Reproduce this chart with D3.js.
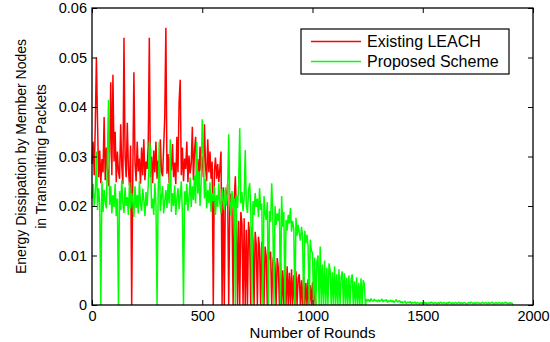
<!DOCTYPE html>
<html>
<head>
<meta charset="utf-8">
<script src="https://cdn.jsdelivr.net/npm/d3@7"></script>
<style>
  body { margin: 0; background: #fff; }
  svg { display: block; font-family: Arial, "Liberation Sans", sans-serif; }
</style>
</head>
<body>
<svg id="chart" width="550" height="342"></svg>
<script>
// samples every 5 rounds, values in units of 1e-4
const step = 5;

const leach = [
  285, 330, 262, 365, 500, 370, 258, 312, 246, 295,
  268, 380, 252, 318, 275, 240, 305, 450, 262, 465,
  290, 350, 248, 310, 270, 255, 365, 282, 244, 540,
  300, 258, 368, 276, 242, 322, 0, 265, 470, 288,
  250, 330, 270, 296, 245, 318, 262, 335, 252, 290,
  275, 322, 540, 258, 300, 246, 312, 268, 330, 255,
  292, 248, 335, 270, 260, 318, 380, 560, 265, 305,
  246, 298, 272, 325, 258, 288, 244, 340, 268, 410,
  455, 262, 318, 250, 296, 275, 330, 248, 302, 266,
  285, 360, 252, 312, 340, 260, 295, 246, 320, 272,
  300, 258, 365, 280, 250, 335, 268, 310, 255, 290,
  0, 270, 298, 255, 285, 248, 276, 310, 0, 238,
  0, 232, 210, 245, 0, 198, 225, 190, 0, 215,
  260, 182, 0, 170, 0, 188, 165, 0, 175, 0,
  152, 0, 168, 140, 0, 158, 130, 0, 148, 122,
  0, 138, 115, 0, 128, 105, 0, 118, 98, 0,
  112, 92, 108, 0, 88, 102, 80, 0, 95, 75,
  0, 86, 0, 70, 0, 82, 0, 78, 0, 65,
  0, 72, 0, 60, 0, 68, 0, 55, 62, 0,
  50, 0, 58, 0, 45, 0, 52, 0, 40, 0,
  46, 0, 38, 0
];

const proposed = [
  215, 245, 200, 228, 310, 192, 236, 205, 0, 250,
  188, 232, 210, 195, 300, 414, 202, 240, 185, 222,
  198, 245, 180, 215, 0, 230, 192, 252, 205, 186,
  238, 200, 218, 182, 248, 195, 226, 208, 178, 240,
  196, 222, 185, 250, 205, 190, 235, 212, 180, 228,
  200, 242, 330, 318, 195, 215, 182, 246, 204, 0,
  225, 330, 190, 218, 240, 185, 210, 232, 196, 245,
  205, 335, 188, 226, 200, 242, 182, 215, 236, 194,
  220, 250, 186, 0, 230, 202, 245, 190, 216, 258,
  198, 240, 212, 262, 205, 330, 225, 270, 200, 248,
  375, 300, 215, 255, 195, 232, 206, 248, 188, 226,
  210, 240, 182, 222, 198, 246, 205, 186, 235, 212,
  192, 238, 200, 225, 345, 208, 182, 230, 198, 215,
  0, 222, 196, 240, 357, 205, 228, 190, 218, 313,
  200, 186, 232, 246, 195, 0, 210, 182, 226, 198,
  215, 178, 236, 192, 205, 0, 220, 185, 172, 208,
  0, 190, 168, 246, 180, 0, 200, 162, 185, 170,
  195, 0, 220, 158, 188, 0, 172, 150, 182, 165,
  196, 148, 170, 155, 0, 176, 140, 162, 145, 130,
  158, 138, 0, 150, 125, 142, 118, 0, 132, 110,
  105, 0, 96, 0, 88, 100, 0, 118, 0, 82,
  0, 90, 0, 75, 0, 84, 70, 0, 66, 0,
  78, 0, 62, 0, 72, 0, 58, 68, 0, 64,
  0, 55, 0, 60, 0, 52, 62, 0, 48, 0,
  56, 0, 45, 0, 54, 0, 50, 42, 0, 12,
  8, 11, 6, 13, 9, 7, 12, 8, 10, 6,
  11, 7, 9, 12, 6, 10, 8, 11, 5, 9,
  7, 10, 6, 9, 5, 8, 11, 6, 7, 9,
  5, 7, 4, 6, 8, 3, 5, 6, 4, 7,
  3, 5, 4, 6, 3, 5, 4, 2, 5, 3,
  4, 6, 3, 5, 2, 4, 5, 3, 6, 4,
  3, 5, 4, 2, 5, 3, 6, 4, 3, 5,
  4, 2, 5, 3, 6, 4, 3, 5, 2, 4,
  5, 3, 4, 6, 2, 5, 3, 4, 5, 3,
  2, 4, 5, 3, 6, 4, 2, 5, 3, 4,
  5, 3, 4, 2, 6, 4, 3, 5, 4, 2,
  5, 3, 4, 6, 3, 2, 5, 4, 3, 5,
  4, 2, 5, 3, 4, 6, 3, 4, 2, 5,
  3, 4, 0
];

const xTicks = [0, 500, 1000, 1500, 2000];
const yTicks = [0, 0.01, 0.02, 0.03, 0.04, 0.05, 0.06];
const seriesNames = ["Existing LEACH", "Proposed Scheme"];
const seriesColors = ["#ff0000", "#00ff00"];

const margin = { top: 8, right: 17, bottom: 37, left: 92 };
const width = 550 - margin.left - margin.right;
const height = 342 - margin.top - margin.bottom;

const svg = d3.select("#chart");
const g = svg.append("g").attr("transform", `translate(${margin.left},${margin.top})`);

const x = d3.scaleLinear().domain([0, 2000]).range([0, width]);
const y = d3.scaleLinear().domain([0, 0.06]).range([height, 0]);

const toPoints = arr => arr.map((v, i) => [i * step, v / 1e4]);
const line = d3.line().x(d => x(d[0])).y(d => y(d[1]));

const plot = g.append("g");
[leach, proposed].forEach((s, i) => {
  plot.append("path")
    .datum(toPoints(s))
    .attr("d", line)
    .attr("fill", "none")
    .attr("stroke", seriesColors[i])
    .attr("stroke-width", 1.5)
    .attr("stroke-linejoin", "bevel");
});

// axes, MATLAB style: ticks pointing inward on all four sides
const fmtY = d => d === 0 ? "0" : d3.format(".2f")(d);

const xAxis = g.append("g")
  .attr("transform", `translate(0,${height})`)
  .call(d3.axisBottom(x).tickValues(xTicks).tickFormat(d3.format("d")).tickSizeInner(-5).tickSizeOuter(0).tickPadding(6));
const yAxis = g.append("g")
  .call(d3.axisLeft(y).tickValues(yTicks).tickFormat(fmtY).tickSizeInner(-5).tickSizeOuter(0).tickPadding(5));
g.append("g")
  .call(d3.axisTop(x).tickValues(xTicks).tickSizeInner(-5).tickSizeOuter(0).tickFormat(""));
g.append("g")
  .attr("transform", `translate(${width},0)`)
  .call(d3.axisRight(y).tickValues(yTicks).tickSizeInner(-5).tickSizeOuter(0).tickFormat(""));

g.selectAll(".domain").remove();
g.selectAll(".tick line").attr("stroke", "#000");
[xAxis, yAxis].forEach(a => a.selectAll("text")
  .style("font-size", "14.5px")
  .attr("fill", "#000"));

g.append("rect")
  .attr("width", width)
  .attr("height", height)
  .attr("fill", "none")
  .attr("stroke", "#000")
  .attr("stroke-width", 1.3);

// axis labels
svg.append("text")
  .attr("x", margin.left + width / 2)
  .attr("y", 338)
  .attr("text-anchor", "middle")
  .style("font-size", "15px")
  .text("Number of Rounds");

const yLab = ["Energy Dissipation by Member Nodes", "in Transmitting Packets"];
yLab.forEach((t, i) => {
  svg.append("text")
    .attr("transform", `translate(${26 + i * 20},${margin.top + height / 2}) rotate(-90)`)
    .attr("text-anchor", "middle")
    .style("font-size", "14px")
    .text(t);
});

// legend
const legend = svg.append("g").attr("transform", "translate(301,29)");
legend.append("rect")
  .attr("width", 208)
  .attr("height", 45)
  .attr("fill", "#fff")
  .attr("stroke", "#000")
  .attr("stroke-width", 1.2);
seriesNames.forEach((name, i) => {
  const yy = 12.5 + i * 20;
  legend.append("line")
    .attr("x1", 10).attr("x2", 60)
    .attr("y1", yy).attr("y2", yy)
    .attr("stroke", seriesColors[i])
    .attr("stroke-width", 1.5);
  legend.append("text")
    .attr("x", 66)
    .attr("y", yy + 5.5)
    .style("font-size", "16px")
    .text(name);
});
</script>
</body>
</html>
